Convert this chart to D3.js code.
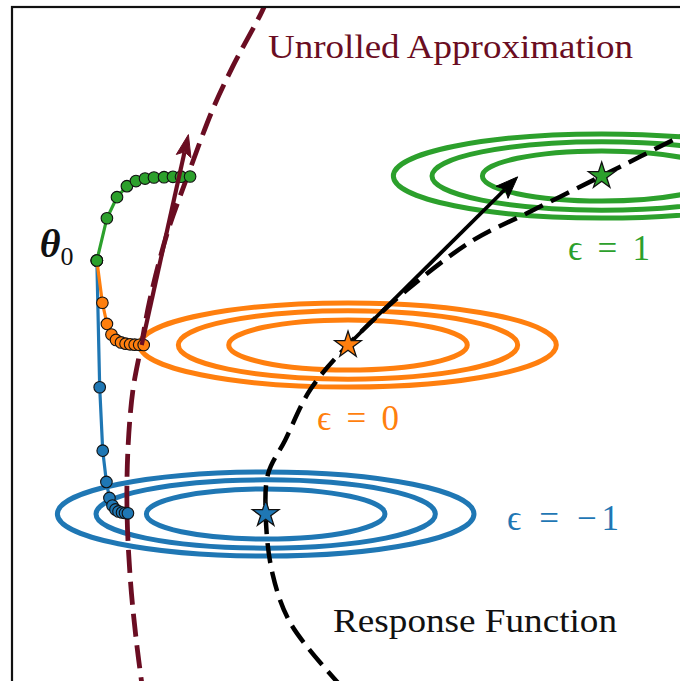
<!DOCTYPE html>
<html>
<head>
<meta charset="UTF-8">
<script src="https://d3js.org/d3.v7.min.js"></script>
<style>
  body { margin: 0; background: #fff; }
  text { font-family: "Liberation Serif", "DejaVu Serif", serif; }
</style>
</head>
<body>
<svg class="chart"></svg>
<script>
var width = 680,
    height = 681;

// contours for each epsilon, centred on the optimum (stars)
var epsilons = [-1, 0, 1];
var epsLabels = ["\u03f5 = \u22121", "\u03f5 = 0", "\u03f5 = 1"];
var seriesColors = ["#1f77b4", "#ff7f0e", "#2ca02c"];
var optimaX = [-0.49, 0.0, 1.51];
var optimaY = [-1.0, 0.0, 1.0];
var contourRx = [0.71, 1.01, 1.24];
var contourRy = [0.148, 0.202, 0.249];

// best-response curve (black dashed)
var responseX = [-0.04, -0.34, -0.45, -0.49, -0.475, -0.375, -0.225, 0.0, 0.35, 0.745, 1.065, 1.51, 1.74, 1.98, 2.1];
var responseY = [-2.02, -1.65, -1.35, -1.0, -0.76, -0.565, -0.265, 0.0, 0.325, 0.62, 0.78, 1.0, 1.115, 1.235, 1.29];

// unrolled approximation (dark red dashed)
var unrolledX = [-0.485, -0.5, -0.685, -0.805, -0.955, -1.075, -1.18, -1.23, -1.28, -1.31, -1.315, -1.295, -1.26, -1.225];
var unrolledY = [2.05, 2.0, 1.65, 1.395, 1.0, 0.665, 0.265, 0.0, -0.265, -0.62, -1.0, -1.395, -1.75, -2.02];

// inner optimisation trajectories from theta_0
var trajX = [
  [-1.495, -1.478, -1.46, -1.438, -1.42, -1.402, -1.384, -1.366, -1.345, -1.327, -1.31],
  [-1.495, -1.462, -1.435, -1.408, -1.381, -1.351, -1.324, -1.297, -1.27, -1.243, -1.216],
  [-1.495, -1.435, -1.375, -1.316, -1.262, -1.208, -1.155, -1.095, -1.042, -0.994, -0.94]
];
var trajY = [
  [0.5, -0.25, -0.625, -0.81, -0.905, -0.95, -0.973, -0.985, -0.991, -0.994, -0.996],
  [0.5, 0.25, 0.125, 0.062, 0.03, 0.015, 0.008, 0.004, 0.002, 0.001, 0.0],
  [0.5, 0.75, 0.875, 0.94, 0.97, 0.985, 0.991, 0.993, 0.995, 0.996, 0.997]
];

// arrows: [start, end]
var unrolledArrow = [[-1.228, 0.0], [-0.95, 1.245]];
var responseArrow = [[0.0, 0.0], [1.01, 0.995]];

var darkRed = "#6a0d22";

var x = d3.scaleLinear().domain([-2, 2]).range([12, 684]);
var y = d3.scaleLinear().domain([-2, 2]).range([683, 7]);

var svg = d3.select(".chart")
            .attr("width", width)
            .attr("height", height);

svg.append("defs").append("clipPath").attr("id", "plot-clip")
   .append("rect")
   .attr("x", x(-2)).attr("y", y(2))
   .attr("width", x(2) - x(-2)).attr("height", y(-2) - y(2));

var plot = svg.append("g").attr("clip-path", "url(#plot-clip)");

// contour ellipses
epsilons.forEach(function(e, i) {
    plot.append("g")
        .selectAll("ellipse")
        .data(contourRx)
        .enter().append("ellipse")
        .attr("cx", x(optimaX[i]))
        .attr("cy", y(optimaY[i]))
        .attr("rx", function(d) { return x(d) - x(0); })
        .attr("ry", function(d, j) { return y(0) - y(contourRy[j]); })
        .attr("fill", "none")
        .attr("stroke", seriesColors[i])
        .attr("stroke-width", 5);
});

var line = d3.line()
             .x(function(d) { return x(d[0]); })
             .y(function(d) { return y(d[1]); })
             .curve(d3.curveCatmullRom);

plot.append("path")
    .datum(responseX.map(function(v, i) { return [v, responseY[i]]; }))
    .attr("d", line)
    .attr("fill", "none")
    .attr("stroke", "#000")
    .attr("stroke-width", 4.5)
    .attr("stroke-dasharray", "20,9");

plot.append("path")
    .datum(unrolledX.map(function(v, i) { return [v, unrolledY[i]]; }))
    .attr("d", line)
    .attr("fill", "none")
    .attr("stroke", darkRed)
    .attr("stroke-width", 4.8)
    .attr("stroke-dasharray", "23,9");

// trajectories
var straight = d3.line()
                 .x(function(d) { return x(d[0]); })
                 .y(function(d) { return y(d[1]); });

[0, 2, 1].forEach(function(i) {
    var pts = trajX[i].map(function(v, k) { return [v, trajY[i][k]]; });
    var g = plot.append("g");
    g.append("path")
     .datum(pts)
     .attr("d", straight)
     .attr("fill", "none")
     .attr("stroke", seriesColors[i])
     .attr("stroke-width", 3.2);
    g.selectAll("circle")
     .data(pts.slice(i == 1 ? 1 : 0))
     .enter().append("circle")
     .attr("cx", function(d) { return x(d[0]); })
     .attr("cy", function(d) { return y(d[1]); })
     .attr("r", 5.8)
     .attr("fill", seriesColors[i])
     .attr("stroke", "#111")
     .attr("stroke-width", 1.1);
});
// theta_0 dot drawn in green on top
plot.append("circle")
    .attr("cx", x(trajX[2][0])).attr("cy", y(trajY[2][0]))
    .attr("r", 5.8).attr("fill", seriesColors[2])
    .attr("stroke", "#111").attr("stroke-width", 1.1);

function arrow(p0, p1, color, lw, headLen, headW) {
    var x0 = x(p0[0]), y0 = y(p0[1]), x1 = x(p1[0]), y1 = y(p1[1]);
    var dx = x1 - x0, dy = y1 - y0, len = Math.sqrt(dx * dx + dy * dy);
    var ux = dx / len, uy = dy / len;
    var bx = x1 - ux * headLen, by = y1 - uy * headLen;
    plot.append("line")
        .attr("x1", x0).attr("y1", y0)
        .attr("x2", bx + ux * 4).attr("y2", by + uy * 4)
        .attr("stroke", color).attr("stroke-width", lw);
    var nx = x1 - ux * headLen * 0.8, ny = y1 - uy * headLen * 0.8;
    plot.append("path")
        .attr("d", "M" + x1 + "," + y1 +
                   "L" + (bx - uy * headW) + "," + (by + ux * headW) +
                   "L" + nx + "," + ny +
                   "L" + (bx + uy * headW) + "," + (by - ux * headW) + "Z")
        .attr("fill", color)
        .attr("stroke", color)
        .attr("stroke-width", 1);
}

arrow(unrolledArrow[0], unrolledArrow[1], darkRed, 4.2, 22, 7.5);
arrow(responseArrow[0], responseArrow[1], "#000", 3.8, 22, 8.5);

// stars at optima
plot.selectAll(".star")
    .data(epsilons)
    .enter().append("path")
    .attr("class", "star")
    .attr("transform", function(d, i) { return "translate(" + x(optimaX[i]) + "," + y(optimaY[i]) + ")"; })
    .attr("d", d3.symbol().type(d3.symbolStar).size(220))
    .attr("fill", function(d, i) { return seriesColors[i]; })
    .attr("stroke", "#111")
    .attr("stroke-width", 1.3);

// frame (left and top visible)
svg.append("rect")
   .attr("x", x(-2)).attr("y", y(2))
   .attr("width", x(2) - x(-2)).attr("height", y(-2) - y(2))
   .attr("fill", "none")
   .attr("stroke", "#111")
   .attr("stroke-width", 2.2);

// labels
var labelPos = [[0.946, -1.095], [-0.185, -0.503], [1.31, 0.503]];
epsilons.forEach(function(e, i) {
    svg.append("text")
       .attr("x", x(labelPos[i][0]))
       .attr("y", y(labelPos[i][1]))
       .attr("fill", seriesColors[i])
       .attr("font-size", 35)
       .attr("textLength", i == 0 ? 112 : 82)
       .attr("lengthAdjust", "spacing")
       .text(epsLabels[i]);
});

svg.append("text")
   .attr("x", x(-0.476)).attr("y", y(1.698))
   .attr("fill", darkRed)
   .attr("font-size", 34)
   .attr("textLength", 365)
   .attr("lengthAdjust", "spacingAndGlyphs")
   .text("Unrolled Approximation");

svg.append("text")
   .attr("x", x(-0.089)).attr("y", y(-1.698))
   .attr("fill", "#111")
   .attr("font-size", 34)
   .attr("textLength", 284)
   .attr("lengthAdjust", "spacingAndGlyphs")
   .text("Response Function");

var th = svg.append("text")
            .attr("x", x(trajX[2][0]) - 57)
            .attr("y", y(trajY[2][0]) - 4)
            .attr("fill", "#111");
th.append("tspan")
  .attr("font-size", 40)
  .attr("font-weight", "bold")
  .attr("font-style", "italic")
  .text("\u03b8");
th.append("tspan")
  .attr("font-size", 26)
  .attr("dy", 8)
  .text("0");
</script>
</body>
</html>
